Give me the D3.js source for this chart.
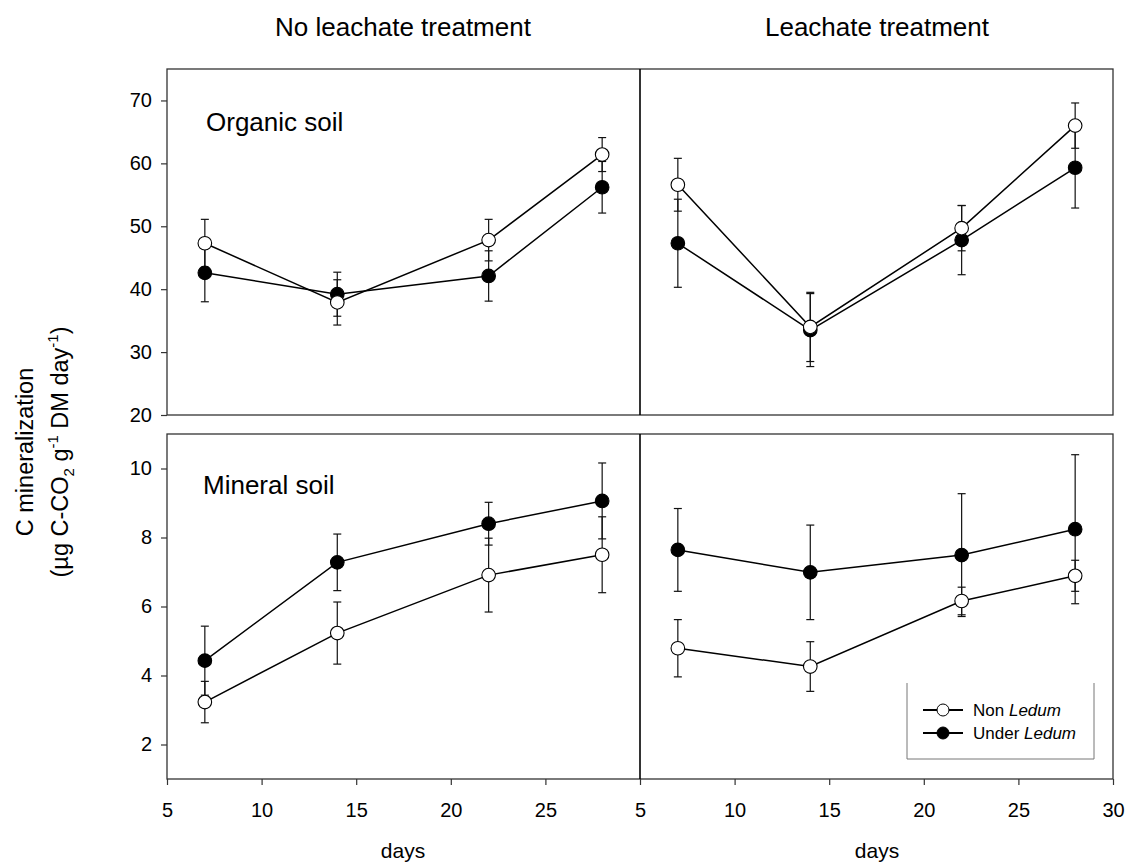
<!DOCTYPE html>
<html lang="en">
<head>
<meta charset="UTF-8">
<title>C mineralization</title>
<script src="https://cdn.jsdelivr.net/npm/d3@7"></script>
<style>
    body { margin: 0; background: #fff; }
    svg { font-family: "Liberation Sans", Arial, Helvetica, sans-serif; }
</style>
</head>
<body>
<svg width="1127" height="866"></svg>
<script>
    // sampling days
    var days = [7, 14, 22, 28];

    // organic soil, no leachate
    var orgNoNon = [47.3, 37.9, 47.8, 61.4];
    var orgNoNonErr = [3.8, 3.6, 3.3, 2.7];
    var orgNoUnder = [42.6, 39.2, 42.1, 56.2];
    var orgNoUnderErr = [4.6, 3.5, 4.0, 4.1];

    // organic soil, leachate
    var orgLeNon = [56.6, 34.0, 49.7, 66.0];
    var orgLeNonErr = [4.2, 5.5, 3.6, 3.6];
    var orgLeUnder = [47.3, 33.5, 47.8, 59.3];
    var orgLeUnderErr = [7.0, 5.8, 5.5, 6.4];

    // mineral soil, no leachate
    var minNoNon = [3.23, 5.23, 6.91, 7.50];
    var minNoNonErr = [0.6, 0.9, 1.07, 1.1];
    var minNoUnder = [4.43, 7.28, 8.40, 9.06];
    var minNoUnderErr = [1.0, 0.82, 0.62, 1.1];

    // mineral soil, leachate
    var minLeNon = [4.79, 4.26, 6.16, 6.89];
    var minLeNonErr = [0.83, 0.72, 0.4, 0.45];
    var minLeUnder = [7.64, 6.99, 7.49, 8.24];
    var minLeUnderErr = [1.2, 1.37, 1.78, 2.16];

    var xTicksLeft = [5, 10, 15, 20, 25];
    var xTicksRight = [5, 10, 15, 20, 25, 30];
    var yTicksOrganic = [20, 30, 40, 50, 60, 70];
    var yTicksMineral = [2, 4, 6, 8, 10];

    var svg = d3.select('svg');

    var xLeft = d3.scaleLinear().domain([5, 30]).range([167, 640]);
    var xRight = d3.scaleLinear().domain([5, 30]).range([640, 1113]);
    var yOrg = d3.scaleLinear().domain([20, 75]).range([415, 69]);
    var yMin = d3.scaleLinear().domain([1, 11]).range([779, 434]);

    function series(vals, errs, open) {
        return vals.map(function (v, i) { return { x: days[i], y: v, e: errs[i], open: open }; });
    }

    var panels = [
        { x: xLeft, y: yOrg, data: [series(orgNoUnder, orgNoUnderErr, false), series(orgNoNon, orgNoNonErr, true)] },
        { x: xRight, y: yOrg, data: [series(orgLeUnder, orgLeUnderErr, false), series(orgLeNon, orgLeNonErr, true)] },
        { x: xLeft, y: yMin, data: [series(minNoUnder, minNoUnderErr, false), series(minNoNon, minNoNonErr, true)] },
        { x: xRight, y: yMin, data: [series(minLeUnder, minLeUnderErr, false), series(minLeNon, minLeNonErr, true)] }
    ];

    // frames
    [[69, 415], [434, 779]].forEach(function (r) {
        svg.append('rect').attr('x', 167).attr('y', r[0]).attr('width', 1113 - 167).attr('height', r[1] - r[0])
            .attr('fill', 'none').attr('stroke', '#333').attr('stroke-width', 1.3);
        svg.append('line').attr('x1', 640).attr('x2', 640).attr('y1', r[0]).attr('y2', r[1])
            .attr('stroke', '#000').attr('stroke-width', 1.6);
    });

    // axes
    function styleAxis(g) {
        g.select('.domain').remove();
        g.selectAll('.tick line').attr('stroke', '#333').attr('stroke-width', 1.2);
        g.selectAll('.tick text').attr('fill', '#000').style('font-size', '20px')
            .style('font-family', '"Liberation Sans", Arial, sans-serif');
    }
    svg.append('g').attr('transform', 'translate(167,0)')
        .call(d3.axisLeft(yOrg).tickValues(yTicksOrganic).tickSize(6).tickPadding(9).tickFormat(d3.format('d')))
        .call(styleAxis);
    svg.append('g').attr('transform', 'translate(167,0)')
        .call(d3.axisLeft(yMin).tickValues(yTicksMineral).tickSize(6).tickPadding(9).tickFormat(d3.format('d')))
        .call(styleAxis);
    svg.append('g').attr('transform', 'translate(0,779)')
        .call(d3.axisBottom(xLeft).tickValues(xTicksLeft).tickSize(6).tickPadding(18).tickFormat(d3.format('d')))
        .call(styleAxis);
    svg.append('g').attr('transform', 'translate(0,779)')
        .call(d3.axisBottom(xRight).tickValues(xTicksRight).tickSize(6).tickPadding(18).tickFormat(d3.format('d')))
        .call(styleAxis);

    // data
    panels.forEach(function (p) {
        var g = svg.append('g');
        var line = d3.line().x(function (d) { return p.x(d.x); }).y(function (d) { return p.y(d.y); });
        p.data.forEach(function (s) {
            g.append('path').attr('d', line(s)).attr('fill', 'none').attr('stroke', '#000').attr('stroke-width', 1.5);
        });
        p.data.forEach(function (s) {
            s.forEach(function (d) {
                var cx = p.x(d.x), top = p.y(d.y + d.e), bot = p.y(d.y - d.e);
                g.append('line').attr('x1', cx).attr('x2', cx).attr('y1', top).attr('y2', bot)
                    .attr('stroke', '#111').attr('stroke-width', 1.2);
                [top, bot].forEach(function (yy) {
                    g.append('line').attr('x1', cx - 4).attr('x2', cx + 4).attr('y1', yy).attr('y2', yy)
                        .attr('stroke', '#111').attr('stroke-width', 1.2);
                });
            });
        });
        p.data.forEach(function (s) {
            g.selectAll(null).data(s).enter().append('circle')
                .attr('cx', function (d) { return p.x(d.x); })
                .attr('cy', function (d) { return p.y(d.y); })
                .attr('r', 6.8)
                .attr('fill', function (d) { return d.open ? '#fff' : '#000'; })
                .attr('stroke', '#000').attr('stroke-width', 1.1);
        });
    });

    // titles
    svg.append('text').attr('x', 403).attr('y', 36).attr('text-anchor', 'middle')
        .style('font-size', '26px').text('No leachate treatment');
    svg.append('text').attr('x', 877).attr('y', 36).attr('text-anchor', 'middle')
        .style('font-size', '26px').text('Leachate treatment');
    svg.append('text').attr('x', 206).attr('y', 131).style('font-size', '26px').text('Organic soil');
    svg.append('text').attr('x', 203).attr('y', 494).style('font-size', '26px').text('Mineral soil');
    svg.append('text').attr('x', 403).attr('y', 858).attr('text-anchor', 'middle').style('font-size', '21px').text('days');
    svg.append('text').attr('x', 877).attr('y', 858).attr('text-anchor', 'middle').style('font-size', '21px').text('days');

    // y label
    svg.append('text').attr('transform', 'translate(33,452) rotate(-90)').attr('text-anchor', 'middle')
        .style('font-size', '23.5px').text('C mineralization');
    var yl = svg.append('text').attr('transform', 'translate(68,452) rotate(-90)').attr('text-anchor', 'middle')
        .style('font-size', '23.5px');
    yl.append('tspan').text('(\u00b5g C-CO');
    yl.append('tspan').attr('dy', 6).style('font-size', '15px').text('2');
    yl.append('tspan').attr('dy', -6).text(' g');
    yl.append('tspan').attr('dy', -10).style('font-size', '15px').text('-1');
    yl.append('tspan').attr('dy', 10).text(' DM day');
    yl.append('tspan').attr('dy', -10).style('font-size', '15px').text('-1');
    yl.append('tspan').attr('dy', 10).text(')');

    // legend
    var lg = svg.append('g');
    lg.append('path').attr('d', 'M907,683V759H1094V683').attr('fill', 'none').attr('stroke', '#777').attr('stroke-width', 1);
    var legendItems = [{ label: 'Non ', open: true, y: 710 }, { label: 'Under ', open: false, y: 733 }];
    legendItems.forEach(function (it) {
        lg.append('line').attr('x1', 923).attr('x2', 963).attr('y1', it.y).attr('y2', it.y)
            .attr('stroke', '#000').attr('stroke-width', 1.8);
        lg.append('circle').attr('cx', 943).attr('cy', it.y).attr('r', 6)
            .attr('fill', it.open ? '#fff' : '#000').attr('stroke', '#000').attr('stroke-width', 1);
        var t = lg.append('text').attr('x', 973).attr('y', it.y + 6).style('font-size', '17px');
        t.append('tspan').text(it.label);
        t.append('tspan').style('font-style', 'italic').text('Ledum');
    });
</script>
</body>
</html>
